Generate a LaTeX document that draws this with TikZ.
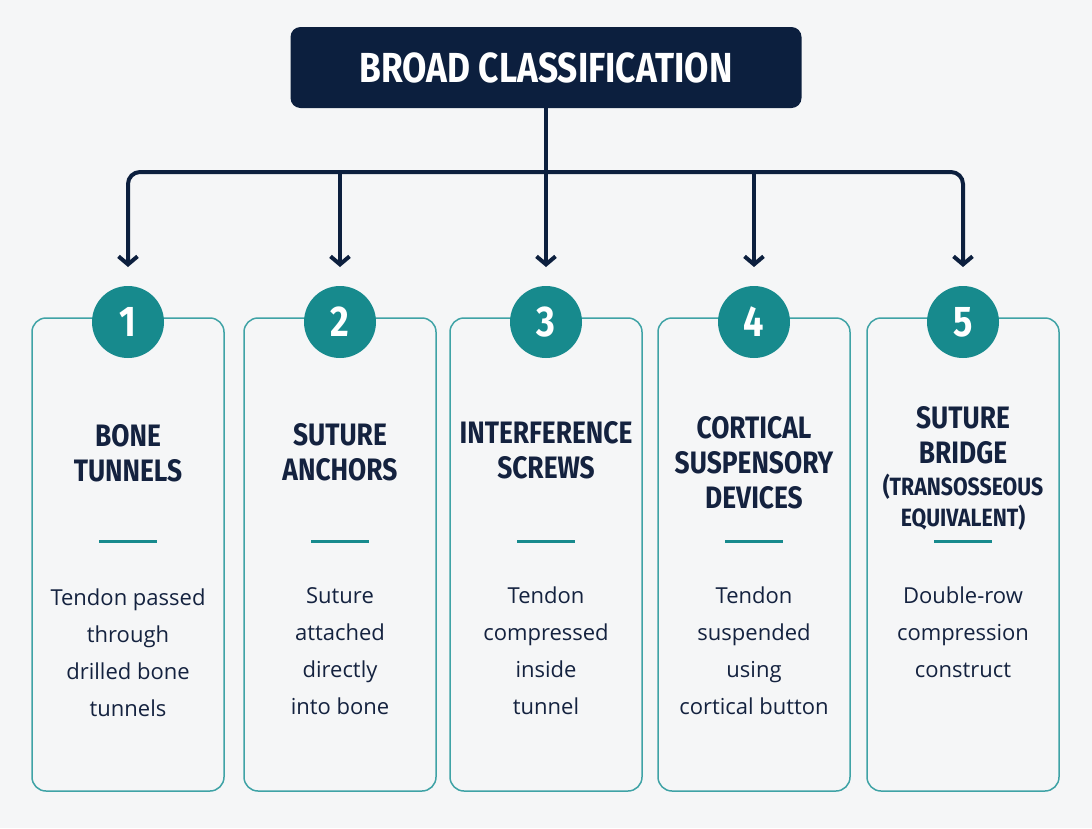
\documentclass[tikz,border=0pt]{standalone}
\usepackage{fontspec}
\setmainfont{Open Sans}
\newfontfamily\headfont[FakeStretch=0.85]{Fira Sans}
\newfontfamily\titlefont[FakeStretch=0.84]{Fira Sans}
\usetikzlibrary{arrows.meta}

\definecolor{navy}{HTML}{0C1F3E}
\definecolor{ink}{HTML}{14223F}
\definecolor{badgeteal}{HTML}{178A8D}
\definecolor{cardline}{HTML}{3FA3A6}
\definecolor{paper}{HTML}{F5F6F7}

\tikzset{
  link/.style={draw=navy, line width=4pt, -{Straight Barb[length=8pt, width=19pt]}},
  titlebox/.style={fill=navy, rounded corners=10pt, minimum width=511pt, minimum height=81pt,
    text=white, font=\titlefont\bfseries\fontsize{42}{42}\selectfont},
  card/.style={draw=cardline, line width=1.5pt, rounded corners=14pt, fill=paper,
    minimum width=192pt, minimum height=473pt, inner sep=0pt},
  badge/.style={circle, fill=badgeteal, minimum size=72pt, inner sep=0pt, text=white,
    font=\titlefont\bfseries\fontsize{43}{43}\selectfont},
  head/.style={align=center, inner sep=0pt, text=ink, font=\headfont\bfseries\fontsize{31}{35}\selectfont},
  subhead/.style={align=center, inner sep=0pt, text=ink, font=\headfont\bfseries\fontsize{25}{31}\selectfont},
  rule/.style={draw=badgeteal, line width=3pt},
  desc/.style={align=center, inner sep=0pt, anchor=north, text=ink, font=\fontsize{22}{37}\selectfont},
}

\begin{document}
\begin{tikzpicture}[x=1pt, y=-1pt]
  \useasboundingbox (0,0) rectangle (1092,828);
  \fill[paper] (0,0) rectangle (1092,828);

  % top
  \node[titlebox] (title) at (546,67.5) {BROAD CLASSIFICATION};

  % cards
  \node[card] (card1) at (128,554.5) {};
  \node[card] (card2) at (340,554.5) {};
  \node[card] (card3) at (546,554.5) {};
  \node[card] (card4) at (754,554.5) {};
  \node[card] (card5) at (963,554.5) {};

  \node[badge] (num1) at (128,322) {1};
  \node[badge] (num2) at (340,322) {2};
  \node[badge] (num3) at (546,322) {3};
  \node[badge] (num4) at (754,322) {4};
  \node[badge] (num5) at (963,322) {5};

  % arrows
  \coordinate (hub) at (546,172);
  \coordinate (tip1) at (128,267);
  \coordinate (tip2) at (340,267);
  \coordinate (tip3) at (546,267);
  \coordinate (tip4) at (754,267);
  \coordinate (tip5) at (963,267);
  \draw[link] (title.south) -- (tip3);
  \draw[link, rounded corners=12pt] (hub) -| (tip1);
  \draw[link, rounded corners=12pt] (hub) -| (tip5);
  \draw[link] (tip2 |- hub) -- (tip2);
  \draw[link] (tip4 |- hub) -- (tip4);

  % headings
  \node[head] (head1) at (128,453) {BONE\\TUNNELS};
  \node[head] (head2) at (340,452) {SUTURE\\ANCHORS};
  \node[head] (head3) at (546,450.5) {INTERFERENCE\\SCREWS};
  \node[head] (head4) at (754,463) {CORTICAL\\SUSPENSORY\\DEVICES};
  \node[head] (head5) at (963,435.5) {SUTURE\\BRIDGE};
  \node[subhead] (sub5) at (963,502.5) {(TRANSOSSEOUS\\EQUIVALENT)};

  \foreach \x in {128,340,546,754,963}
    \draw[rule] (\x-29,541) -- (\x+29,541);

  % descriptions
  \node[desc] (desc1) at (128,589) {Tendon passed\\through\\drilled bone\\tunnels};
  \node[desc] (desc2) at (340,587) {Suture\\attached\\directly\\into bone};
  \node[desc] (desc3) at (546,587) {Tendon\\compressed\\inside\\tunnel};
  \node[desc] (desc4) at (754,587) {Tendon\\suspended\\using\\cortical button};
  \node[desc] (desc5) at (963,587) {Double-row\\compression\\construct};
\end{tikzpicture}
\end{document}
